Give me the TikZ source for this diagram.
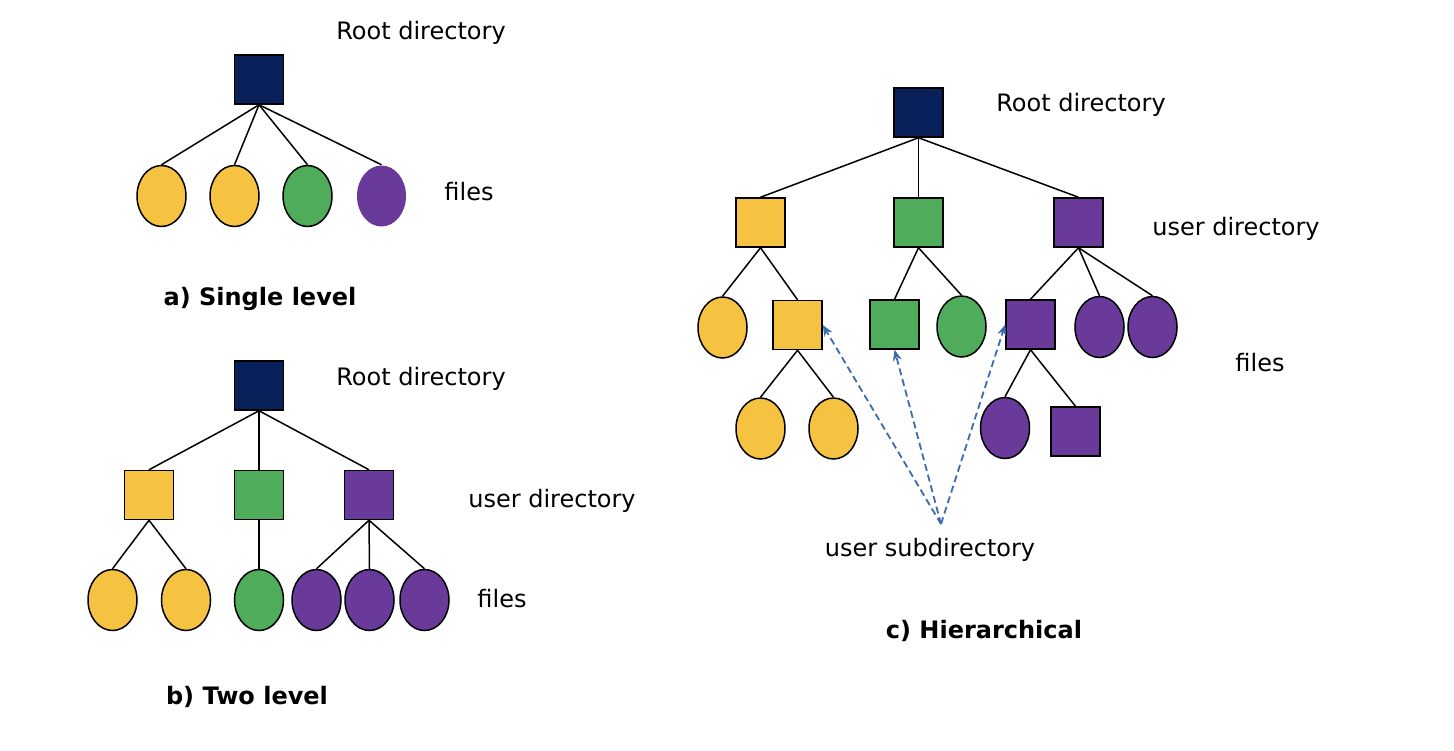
\documentclass[tikz,border=0pt]{standalone}
\usepackage{fontspec}
\setmainfont{DejaVu Sans}
\usetikzlibrary{shapes.geometric,arrows.meta}

\definecolor{rootblue}{HTML}{08215A}
\definecolor{fileyellow}{HTML}{F5C242}
\definecolor{filegreen}{HTML}{4EAC5B}
\definecolor{filepurple}{HTML}{693A99}
\definecolor{linkblue}{HTML}{3A6CAE}

\tikzset{
  dirbox/.style={draw=black,line width=1.5pt,minimum size=49pt,inner sep=0pt},
  filedot/.style={ellipse,draw=black,line width=1.5pt,minimum width=49pt,minimum height=61pt,inner sep=0pt},
  label/.style={font=\fontsize{24}{28}\selectfont,yshift=-3pt},
  title/.style={font=\fontsize{24}{28}\selectfont\bfseries,yshift=-3pt},
  edge/.style={line width=1.5pt},
  link/.style={dash pattern=on 7pt off 4pt,line width=1.8pt,linkblue,-{Stealth[length=11pt,width=9pt]}}
}

\begin{document}
\begin{tikzpicture}[x=1pt,y=-1pt]
\useasboundingbox (0,0) rectangle (1454,750);
%a) single level
\node[dirbox,fill=rootblue] (ar) at (259,79.5) {};
\node[filedot,fill=fileyellow] (af1) at (161.5,196) {};
\node[filedot,fill=fileyellow] (af2) at (234.5,196) {};
\node[filedot,fill=filegreen] (af3) at (307.5,196) {};
\node[filedot,fill=filepurple,draw=none] (af4) at (381.5,196) {};
\foreach \f in {af1,af2,af3,af4}
  \draw[edge] (ar.south) -- (\f.north);
\node[label] (aroot) at (421,30) {Root directory};
\node[label] (afiles) at (469,189) {files};
\node[title] (atitle) at (260,296) {a) Single level};
%b) two level
\node[dirbox,fill=rootblue] (br) at (259,385.5) {};
\node[dirbox,fill=fileyellow] (bu1) at (149,495) {};
\node[dirbox,fill=filegreen] (bu2) at (259,495) {};
\node[dirbox,fill=filepurple] (bu3) at (369,495) {};
\node[filedot,fill=fileyellow] (bf1) at (112.5,600) {};
\node[filedot,fill=fileyellow] (bf2) at (186,600) {};
\node[filedot,fill=filegreen] (bf3) at (259,600) {};
\node[filedot,fill=filepurple] (bf4) at (316.5,600) {};
\node[filedot,fill=filepurple] (bf5) at (369.5,600) {};
\node[filedot,fill=filepurple] (bf6) at (424.5,600) {};
\foreach \u in {bu1,bu2,bu3}
  \draw[edge] (br.south) -- (\u.north);
\draw[edge] (bu1.south) -- (bf1.north);
\draw[edge] (bu1.south) -- (bf2.north);
\draw[edge] (bu2.south) -- (bf3.north);
\foreach \f in {bf4,bf5,bf6}
  \draw[edge] (bu3.south) -- (\f.north);
\node[label] (broot) at (421,376) {Root directory};
\node[label] (buser) at (552,498) {user directory};
\node[label] (bfiles) at (502,596) {files};
\node[title] (btitle) at (247,694) {b) Two level};
%c) hierarchical
\node[dirbox,fill=rootblue] (cr) at (918.5,112.5) {};
\node[dirbox,fill=fileyellow] (cu1) at (760.5,222.5) {};
\node[dirbox,fill=filegreen] (cu2) at (918.5,222.5) {};
\node[dirbox,fill=filepurple] (cu3) at (1078.5,222.5) {};
\node[filedot,fill=fileyellow] (cf1) at (722.5,327.5) {};
\node[dirbox,fill=fileyellow] (cs1) at (797.5,325) {};
\node[dirbox,fill=filegreen] (cs2) at (894.5,324.5) {};
\node[filedot,fill=filegreen] (cf2) at (961.5,326.5) {};
\node[dirbox,fill=filepurple] (cs3) at (1030.5,324.5) {};
\node[filedot,fill=filepurple] (cf3) at (1099.5,327) {};
\node[filedot,fill=filepurple] (cf4) at (1152.5,327) {};
\node[filedot,fill=fileyellow] (cf5) at (760.5,428.5) {};
\node[filedot,fill=fileyellow] (cf6) at (833.5,428.5) {};
\node[filedot,fill=filepurple] (cf7) at (1005,428) {};
\node[dirbox,fill=filepurple] (cs4) at (1075.5,431.5) {};
\foreach \u in {cu1,cu2,cu3}
  \draw[edge] (cr.south) -- (\u.north);
\draw[edge] (cu1.south) -- (cf1.north);
\draw[edge] (cu1.south) -- (cs1.north);
\draw[edge] (cu2.south) -- (cs2.north);
\draw[edge] (cu2.south) -- (cf2.north);
\draw[edge] (cu3.south) -- (cs3.north);
\draw[edge] (cu3.south) -- (cf3.north);
\draw[edge] (cu3.south) -- (cf4.north);
\draw[edge] (cs1.south) -- (cf5.north);
\draw[edge] (cs1.south) -- (cf6.north);
\draw[edge] (cs3.south) -- (cf7.north);
\draw[edge] (cs3.south) -- (cs4.north);
\coordinate (csub) at (941,524);
\draw[link] (csub) -- (cs1.east);
\draw[link] (csub) -- (cs2.south);
\draw[link] (csub) -- (cs3.west);
\node[label] (croot) at (1081,102) {Root directory};
\node[label] (cuser) at (1236,226) {user directory};
\node[label] (cfiles) at (1260,360) {files};
\node[label] (csubtext) at (930,547) {user subdirectory};
\node[title] (ctitle) at (984,628) {c) Hierarchical};
\end{tikzpicture}
\end{document}
